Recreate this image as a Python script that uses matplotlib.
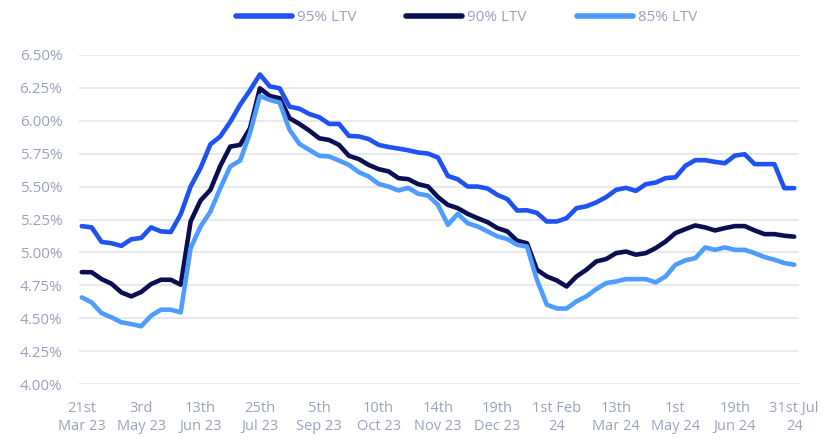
import matplotlib.pyplot as plt
import numpy as np

# weekly-ish mortgage rate observations (category axis)
ltv95 = [5.20, 5.19, 5.08, 5.07, 5.05, 5.10, 5.11, 5.19, 5.16, 5.155,
         5.29, 5.50, 5.64, 5.82, 5.88, 5.99, 6.12, 6.23, 6.35, 6.26,
         6.245, 6.106, 6.09, 6.05, 6.026, 5.975, 5.975, 5.884, 5.88, 5.86,
         5.816, 5.80, 5.788, 5.775, 5.758, 5.75, 5.72, 5.58, 5.555, 5.50,
         5.50, 5.485, 5.437, 5.405, 5.318, 5.32, 5.30, 5.235, 5.235, 5.26,
         5.336, 5.35, 5.38, 5.42, 5.475, 5.49, 5.467, 5.518, 5.53, 5.564,
         5.57, 5.657, 5.70, 5.70, 5.687, 5.677, 5.735, 5.745, 5.67, 5.67,
         5.67, 5.488, 5.488]
ltv90 = [4.851, 4.85, 4.798, 4.763, 4.697, 4.667, 4.70, 4.76, 4.793, 4.793,
         4.755, 5.235, 5.394, 5.475, 5.657, 5.803, 5.816, 5.942, 6.245, 6.187,
         6.17, 6.018, 5.975, 5.924, 5.866, 5.853, 5.816, 5.733, 5.708, 5.664,
         5.632, 5.615, 5.564, 5.556, 5.518, 5.50, 5.42, 5.361, 5.336, 5.293,
         5.26, 5.23, 5.185, 5.16, 5.089, 5.07, 4.869, 4.818, 4.788, 4.742,
         4.818, 4.869, 4.932, 4.95, 4.995, 5.007, 4.983, 4.995, 5.033, 5.083,
         5.147, 5.177, 5.205, 5.19, 5.167, 5.185, 5.20, 5.20, 5.167, 5.139,
         5.139, 5.127, 5.12]
ltv85 = [4.659, 4.621, 4.54, 4.508, 4.47, 4.457, 4.44, 4.52, 4.566, 4.566,
         4.546, 5.033, 5.197, 5.31, 5.488, 5.652, 5.697, 5.905, 6.187, 6.157,
         6.137, 5.93, 5.823, 5.778, 5.733, 5.728, 5.697, 5.664, 5.609, 5.576,
         5.52, 5.50, 5.47, 5.49, 5.445, 5.432, 5.361, 5.21, 5.293, 5.222,
         5.197, 5.16, 5.122, 5.102, 5.058, 5.045, 4.793, 4.604, 4.575, 4.575,
         4.629, 4.667, 4.722, 4.768, 4.78, 4.798, 4.798, 4.798, 4.773, 4.818,
         4.907, 4.94, 4.957, 5.038, 5.02, 5.038, 5.02, 5.02, 4.995, 4.965,
         4.945, 4.92, 4.907]

tick_labels = ["21st\nMar 23", "3rd\nMay 23", "13th\nJun 23", "25th\nJul 23",
               "5th\nSep 23", "10th\nOct 23", "14th\nNov 23", "19th\nDec 23",
               "1st Feb\n24", "13th\nMar 24", "1st\nMay 24", "19th\nJun 24",
               "31st Jul\n24"]
series_names = ["95% LTV", "90% LTV", "85% LTV"]
colors = ["#1f52f2", "#0b0f52", "#4d9cff"]

plt.rcParams['font.family'] = ['Open Sans', 'DejaVu Sans']
text_col = "#9aa2be"

fig = plt.figure(figsize=(8.23, 4.38), dpi=100)
ax = fig.add_axes([0.096, 0.1226, 0.875, 0.7525])

x = np.arange(len(ltv95))
for vals, name, c in zip([ltv95, ltv90, ltv85], series_names, colors):
    ax.plot(x, vals, color=c, lw=3.3, label=name, solid_capstyle='round',
            solid_joinstyle='round')

ax.set_ylim(4.0, 6.5)
ax.set_xlim(-0.28, 72.5)
yt = np.arange(4.0, 6.51, 0.25)
ax.set_yticks(yt)
ax.set_yticklabels([f"{v:.2f}%" for v in yt])
ax.set_xticks(np.arange(0, 73, 6))
ax.set_xticklabels(tick_labels, linespacing=1.25)
ax.grid(axis='y', color='#e4e7ed', lw=1.3)
ax.set_axisbelow(True)
for s in ax.spines.values():
    s.set_visible(False)
ax.tick_params(axis='y', length=0, pad=12, labelsize=11, labelcolor=text_col)
ax.tick_params(axis='x', length=0, pad=12, labelsize=10.5, labelcolor=text_col)

leg = fig.legend(loc='center', bbox_to_anchor=(0.567, 0.96), ncol=3, frameon=False,
                 handlelength=3.66, handletextpad=0.33, columnspacing=3.27,
                 fontsize=11)
for t in leg.get_texts():
    t.set_color(text_col)
for h in leg.get_lines():
    h.set_linewidth(4)

fig.savefig("out.png", dpi=100)
